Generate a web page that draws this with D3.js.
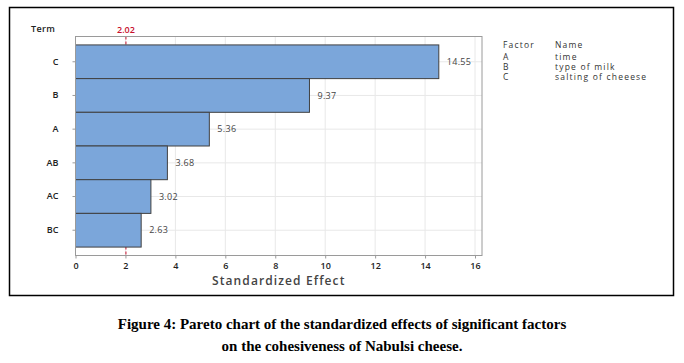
<!DOCTYPE html>
<html>
<head>
<meta charset="utf-8">
<script src="https://cdn.jsdelivr.net/npm/d3@7"></script>
<style>
 body { margin: 0; background: #fff; }
</style>
</head>
<body>
<div id="chart"></div>
<script>
const terms = ["C", "B", "A", "AB", "AC", "BC"];
const effects = [14.55, 9.37, 5.36, 3.68, 3.02, 2.63];
const xTicks = [0, 2, 4, 6, 8, 10, 12, 14, 16];
const critical = 2.02;
const factorCodes = ["A", "B", "C"];
const factorNames = ["time", "type of milk", "salting of cheeese"];
const caption = [
 "Figure 4: Pareto chart of the standardized effects of significant factors",
 "on the cohesiveness of Nabulsi cheese."
];

const W = 684, H = 363;
const font = "'Open Sans', 'DejaVu Sans', sans-serif";

const svg = d3.select("#chart")
 .append("svg")
 .attr("width", W)
 .attr("height", H)
 .attr("viewBox", `0 0 ${W} ${H}`);

// outer frame
svg.append("rect")
 .attr("x", 9.5).attr("y", 7.5)
 .attr("width", 664).attr("height", 288)
 .attr("fill", "none")
 .attr("stroke", "#000")
 .attr("stroke-width", 1.5);

const plot = { left: 75.5, right: 482, top: 36.5, bottom: 255.5 };

const x = d3.scaleLinear().domain([0, 16.28]).range([plot.left, plot.right]);
const y = d3.scaleBand().domain(terms).range([plot.top, plot.bottom])
 .paddingInner(0).paddingOuter(0.25);

// gridlines
svg.append("g")
 .selectAll("line.v")
 .data(xTicks.filter(d => d > 0))
 .join("line")
 .attr("x1", d => x(d)).attr("x2", d => x(d))
 .attr("y1", plot.top).attr("y2", plot.bottom)
 .attr("stroke", "#e8e8e8");
svg.append("g")
 .selectAll("line.h")
 .data(terms)
 .join("line")
 .attr("x1", plot.left).attr("x2", plot.right)
 .attr("y1", d => y(d) + y.bandwidth() / 2)
 .attr("y2", d => y(d) + y.bandwidth() / 2)
 .attr("stroke", "#e8e8e8");

// critical line (behind the bars)
svg.append("line")
 .attr("x1", x(critical)).attr("x2", x(critical))
 .attr("y1", plot.top).attr("y2", plot.bottom)
 .attr("stroke", "#c8102e")
 .attr("stroke-width", 1)
 .attr("stroke-dasharray", "3,2");

// bars
svg.append("g")
 .selectAll("rect")
 .data(effects)
 .join("rect")
 .attr("x", x(0))
 .attr("y", (d, i) => y(terms[i]))
 .attr("width", d => x(d) - x(0))
 .attr("height", y.bandwidth())
 .attr("fill", "#7ba6da")
 .attr("stroke", "#404040")
 .attr("stroke-width", 1);

// value labels
svg.append("g")
 .selectAll("text")
 .data(effects)
 .join("text")
 .attr("x", d => x(d) + 8)
 .attr("y", (d, i) => y(terms[i]) + y.bandwidth() / 2)
 .attr("dy", "0.35em")
 .attr("font-family", font)
 .attr("font-size", 9)
 .attr("letter-spacing", 0.3)
 .attr("fill", "#444")
 .text(d => d.toFixed(2));

svg.append("text")
 .attr("x", x(critical))
 .attr("y", 33)
 .attr("text-anchor", "middle")
 .attr("font-family", font)
 .attr("font-size", 9)
 .attr("font-weight", 600)
 .attr("fill", "#c8102e")
 .text(critical.toFixed(2));

// plot frame
svg.append("rect")
 .attr("x", plot.left).attr("y", plot.top)
 .attr("width", plot.right - plot.left)
 .attr("height", plot.bottom - plot.top)
 .attr("fill", "none")
 .attr("stroke", "#9a9a9a")
 .attr("stroke-width", 1);

// axes
const xAxis = svg.append("g")
 .attr("transform", `translate(0,${plot.bottom})`)
 .call(d3.axisBottom(x).tickValues(xTicks).tickSize(3).tickPadding(4));
const yAxis = svg.append("g")
 .attr("transform", `translate(${plot.left},0)`)
 .call(d3.axisLeft(y).tickSize(3).tickPadding(14));

[xAxis, yAxis].forEach(g => {
 g.select(".domain").remove();
 g.selectAll(".tick line").attr("stroke", "#9a9a9a");
 g.selectAll("text")
  .attr("font-family", font)
  .attr("font-size", 9)
  .attr("font-weight", 600)
  .attr("fill", "#222");
});

svg.append("text")
 .attr("x", 31).attr("y", 32)
 .attr("font-family", font)
 .attr("font-size", 9)
 .attr("font-weight", 600)
 .attr("letter-spacing", 0.4)
 .attr("fill", "#222")
 .text("Term");

svg.append("text")
 .attr("x", (plot.left + plot.right) / 2)
 .attr("y", 285)
 .attr("text-anchor", "middle")
 .attr("font-family", font)
 .attr("font-size", 12)
 .attr("font-weight", 600)
 .attr("letter-spacing", 1.1)
 .attr("fill", "#444")
 .text("Standardized Effect");

// factor legend
const legend = svg.append("g")
 .attr("font-family", font)
 .attr("font-size", 8.5)
 .attr("letter-spacing", 1.2)
 .attr("fill", "#333");
legend.append("text").attr("x", 503).attr("y", 47.5).text("Factor");
legend.append("text").attr("x", 555).attr("y", 47.5).text("Name");
legend.selectAll("text.code")
 .data(factorCodes)
 .join("text")
 .attr("class", "code")
 .attr("x", 503)
 .attr("y", (d, i) => 59.5 + i * 10)
 .text(d => d);
legend.selectAll("text.name")
 .data(factorNames)
 .join("text")
 .attr("class", "name")
 .attr("x", 555)
 .attr("y", (d, i) => 59.5 + i * 10)
 .text(d => d);

// caption
svg.append("g")
 .selectAll("text")
 .data(caption)
 .join("text")
 .attr("x", W / 2)
 .attr("y", (d, i) => 329 + i * 22)
 .attr("text-anchor", "middle")
 .attr("font-family", "'Liberation Serif', 'Times New Roman', serif")
 .attr("font-size", 15)
 .attr("font-weight", "bold")
 .attr("fill", "#000")
 .text(d => d);
</script>
</body>
</html>
